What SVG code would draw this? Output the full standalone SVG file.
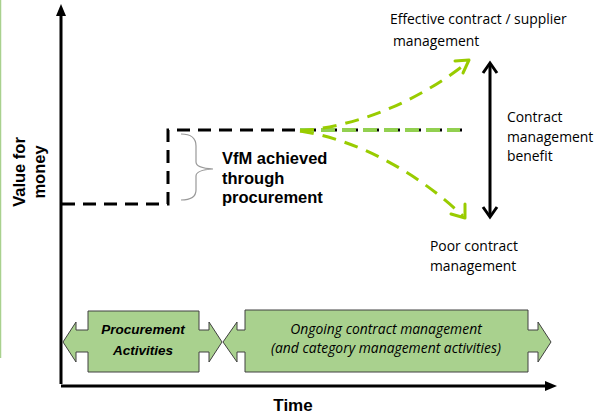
<svg xmlns="http://www.w3.org/2000/svg" width="596" height="417" viewBox="0 0 596 417">
  <style>
    .axis { stroke: #000; stroke-width: 3; fill: none; }
    .dash { stroke: #000; stroke-width: 3; fill: none; stroke-dasharray: 13 8; }
    .gdash { stroke: #99CC00; stroke-width: 3; fill: none; stroke-dasharray: 14 9; }
    .gmid { stroke: #92D050; stroke-width: 4; fill: none; stroke-dasharray: 14 7; }
    .ghead { stroke: #99CC00; stroke-width: 3; fill: none; stroke-linecap: round; stroke-linejoin: round; }
    .bhead { stroke: #000; stroke-width: 3; fill: none; stroke-linejoin: miter; }
    .box { fill: #A9D18E; stroke: #404040; stroke-width: 1; }
    .bold { font-family: "Liberation Sans", Arial, sans-serif; font-weight: bold; fill: #000; }
    .lbl { font-family: "Open Sans", "Liberation Sans", sans-serif; font-size: 13.9px; fill: #000; }
  </style>

  <!-- left margin rule -->
  <line x1="0.5" y1="0" x2="0.5" y2="358" stroke="#A9D18E" stroke-width="1.5"/>

  <g id="axes">
    <line class="axis" x1="61" y1="14" x2="61" y2="384"/>
    <polygon points="61,4 56,16 66,16" fill="#000"/>
    <line class="axis" x1="61" y1="386" x2="548" y2="386"/>
    <polygon points="557,386 545,381 545,391" fill="#000"/>
    <text class="bold" font-size="16.5" transform="translate(25,172) rotate(-90)" text-anchor="middle">Value for</text>
    <text class="bold" font-size="16.5" transform="translate(45,172) rotate(-90)" text-anchor="middle">money</text>
    <text class="bold" font-size="17" x="293" y="411" text-anchor="middle">Time</text>
  </g>

  <g id="connectors">
    <!-- value line: before and after procurement -->
    <path class="dash" d="M62,204 H168 V130 H462"/>
    <!-- green overlay on the steady-state line -->
    <line class="gmid" x1="300" y1="130" x2="460" y2="130"/>
    <!-- effective management path -->
    <path class="gdash" d="M300,131 C360,126 420,100 468,62"/>
    <polyline class="ghead" points="455,61 469,60 463,73"/>
    <!-- poor management path -->
    <path class="gdash" d="M300,131 C360,140 420,175 463,216"/>
    <polyline class="ghead" points="465,204 465,218 451,214"/>
    <!-- benefit range -->
    <line class="axis" x1="490" y1="64" x2="490" y2="216"/>
    <polyline class="bhead" points="483,73 490,63 497,73"/>
    <polyline class="bhead" points="483,207 490,217 497,207"/>
    <!-- brace -->
    <path d="M181,134 Q196,134 196,146 V162 Q196,168 213,169 Q196,170 196,176 V190 Q196,200 181,200" fill="none" stroke="#999" stroke-width="1.2"/>
  </g>

  <g id="vfm-label">
    <text class="bold" font-size="16.5"><tspan x="222" y="164">VfM achieved</tspan><tspan x="222" y="184">through</tspan><tspan x="222" y="203">procurement</tspan></text>
  </g>

  <g id="effective-label">
    <text class="lbl"><tspan x="390" y="24">Effective contract / supplier</tspan><tspan x="393" y="46">management</tspan></text>
  </g>

  <g id="benefit-label">
    <text class="lbl"><tspan x="507" y="122">Contract</tspan><tspan x="507" y="142">management</tspan><tspan x="507" y="161">benefit</tspan></text>
  </g>

  <g id="poor-label">
    <text class="lbl"><tspan x="430" y="251">Poor contract</tspan><tspan x="430" y="271">management</tspan></text>
  </g>

  <g id="procurement-activities">
    <path class="box" d="M63,342 L76,322 V330 H88 V311 H199 V330 H209 V322 L222,342 L209,362 V352 H199 V372 H88 V352 H76 V362 Z"/>
    <text class="bold" font-size="13.5" font-style="italic" text-anchor="middle"><tspan x="143" y="334">Procurement</tspan><tspan x="143" y="355">Activities</tspan></text>
  </g>

  <g id="ongoing-management">
    <path class="box" d="M223,342 L237,322 V330 H245 V310 H528 V330 H538 V322 L551,342 L538,362 V352 H528 V372 H245 V352 H237 V362 Z"/>
    <text class="lbl" font-size="12.5" font-style="italic" text-anchor="middle"><tspan x="386" y="334">Ongoing contract management</tspan><tspan x="386" y="353">(and category management activities)</tspan></text>
  </g>
</svg>
